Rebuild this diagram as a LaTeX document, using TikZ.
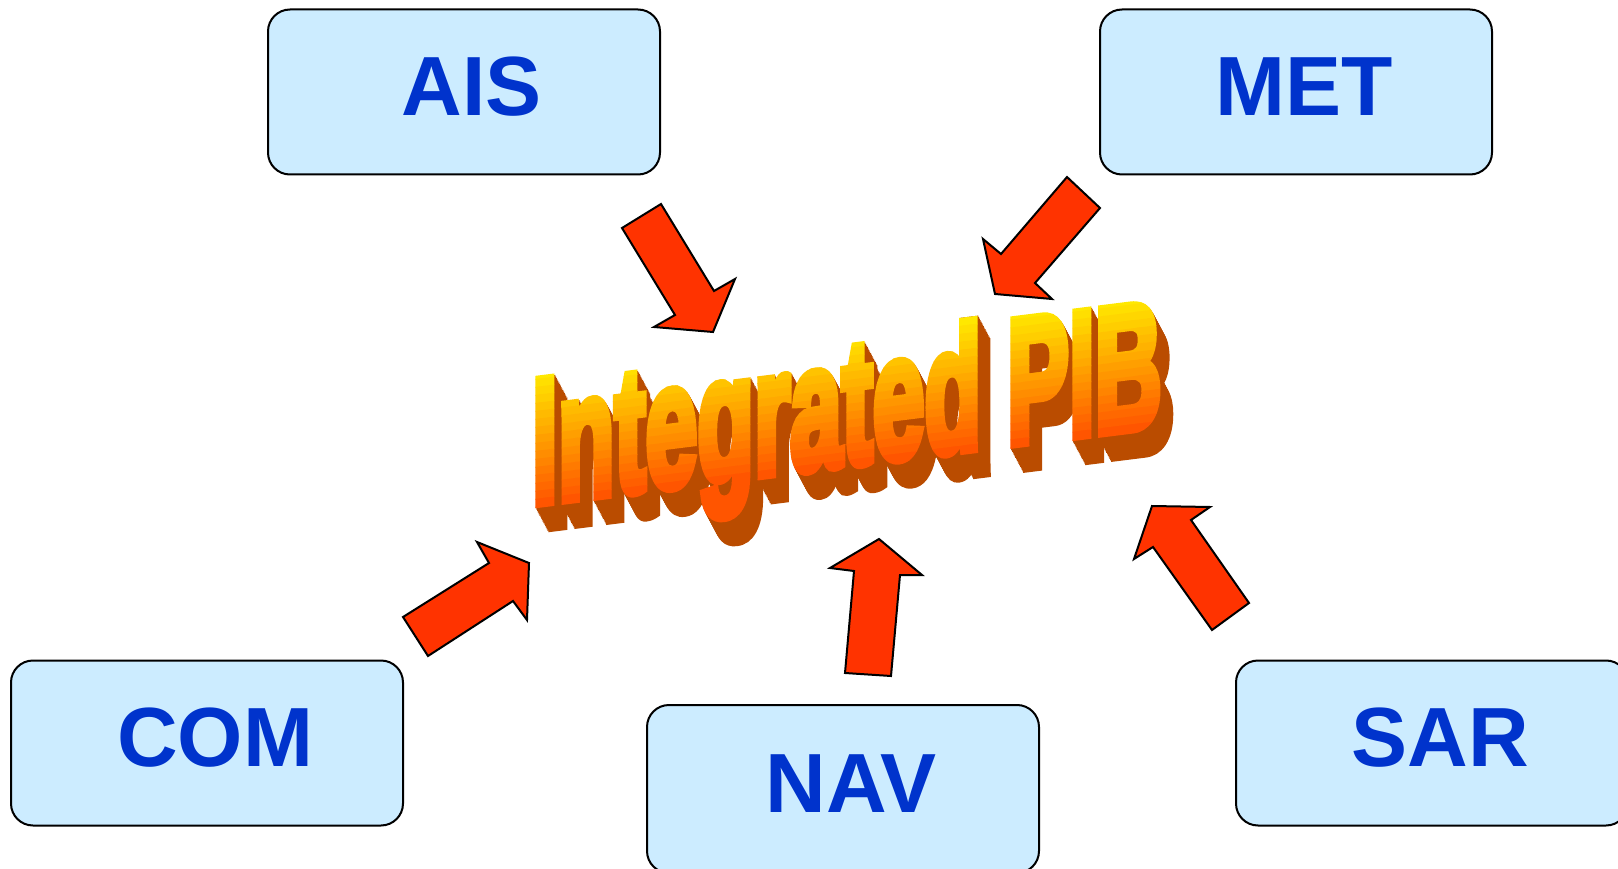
\documentclass[tikz,border=0pt]{standalone}
\usepackage{fontspec}
\setmainfont{Liberation Sans}
\newfontfamily\wordfont[FakeBold=6]{Liberation Sans Bold}
\definecolor{boxfill}{RGB}{204,236,255}
\definecolor{labelblue}{RGB}{0,51,204}
\definecolor{arrowred}{RGB}{255,51,0}
\definecolor{wordtop}{RGB}{255,232,0}
\definecolor{wordbot}{RGB}{255,85,0}
\definecolor{wordside}{RGB}{186,76,0}
\tikzset{
  srcbox/.style={draw=black, line width=2pt, fill=boxfill, rounded corners=22pt,
    minimum width=392pt, minimum height=165pt, inner sep=0pt, text depth=11pt,
    execute at begin node=\hspace*{16pt},
    font=\fontsize{84}{86}\selectfont\bfseries, text=labelblue},
  blockarrow/.style={draw=black, line width=2pt, fill=arrowred, line join=miter},
  wordart/.style={font=\fontsize{177}{180}\wordfont, xscale=0.525,
    transform shape, anchor=base, inner sep=0pt}
}
\begin{document}
\begin{tikzpicture}[x=1pt, y=-1pt]
  \useasboundingbox (0,0) rectangle (1618,869);
  \clip (0,0) rectangle (1618,869);
  \fill[white] (0,0) rectangle (1618,869);
  % sources
  \node[srcbox] (ais) at (464,92) {AIS};
  \node[srcbox] (met) at (1296,92) {MET};
  \node[srcbox] (com) at (207,743) {COM};
  \node[srcbox, minimum height=168pt] (nav) at (843,789) {NAV};
  \node[srcbox] (sar) at (1432,743) {SAR};
  % block arrows towards the centre
  \draw[blockarrow] (622,228) -- (661,204) -- (714,291) -- (735,279) -- (713,332) -- (654,327) -- (675,315) -- cycle;
  \draw[blockarrow] (1067,177) -- (1100,208) -- (1035,283) -- (1052,299) -- (995,294) -- (983,239) -- (1001,254) -- cycle;
  \draw[blockarrow] (403,617) -- (428,656) -- (513,601) -- (527,620) -- (529,563) -- (477,542) -- (489,563) -- cycle;
  \draw[blockarrow] (845,673) -- (891,676) -- (900,575) -- (922,575) -- (879,539) -- (830,568) -- (854,571) -- cycle;
  \draw[blockarrow] (1249,603) -- (1212,630) -- (1153,547) -- (1134,559) -- (1152,506) -- (1210,507) -- (1191,520) -- cycle;
  % word art: extrusion, then shaded front face in bands
  \begin{scope}[shift={(847,400)}, yslant=0.125]
    \foreach \k in {16,...,1}
      \node[wordart, text=wordside] (side\k) at ({\k*0.8},{64+\k*1.6}) {Integrated PIB};
    \foreach \i in {0,...,21} {
      \pgfmathtruncatemacro\p{min(100,\i*100/16)}
      \pgfmathsetmacro\ya{-68+\i*8}
      \begin{scope}
        \clip (-340,\ya) rectangle (340,{\ya+8.6});
        \node[wordart, text=wordbot!\p!wordtop] (face\i) at (0,64) {Integrated PIB};
      \end{scope}
    }
  \end{scope}
\end{tikzpicture}
\end{document}
